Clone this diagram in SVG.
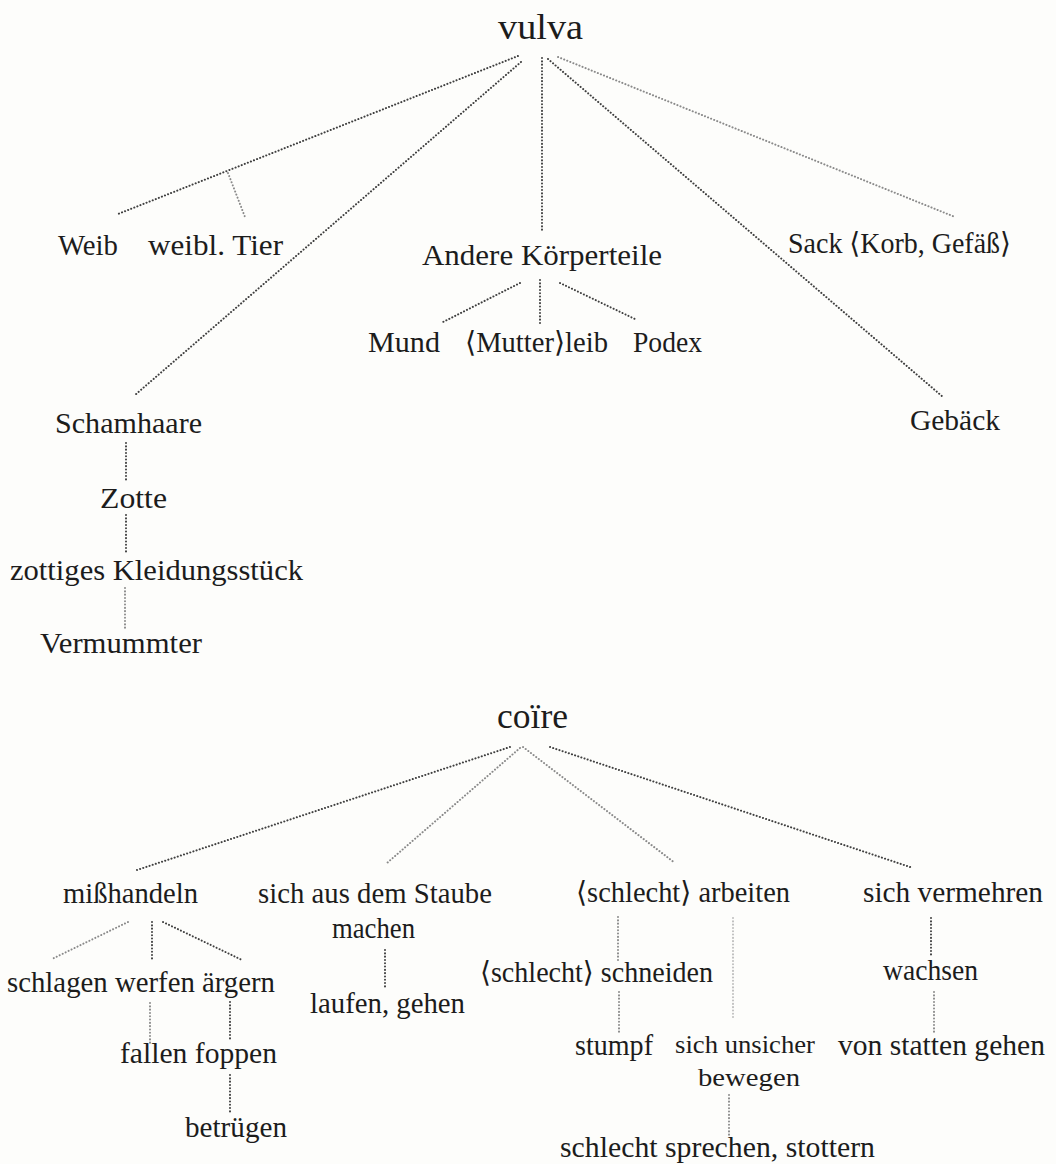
<svg xmlns="http://www.w3.org/2000/svg" width="1056" height="1164" viewBox="0 0 1056 1164">
<style>
text{font-family:"Liberation Serif","DejaVu Serif",serif;font-size:29px;fill:#1c1c1c}
.root{font-size:36px}
.sm{font-size:26px}
#connectors line{stroke:#3f3f3f;stroke-width:2;stroke-dasharray:0.1 3.2;stroke-linecap:round;fill:none}
#connectors line.l{stroke:#8a8a8a}
#connectors line.f{stroke:#bdbdbd}
</style>
<rect width="1056" height="1164" fill="#fdfdfb"/>
<g id="connectors">
<line x1="518" y1="56" x2="118" y2="214"/>
<line class="l" x1="228" y1="173" x2="245" y2="217"/>
<line x1="521" y1="62" x2="135" y2="395"/>
<line x1="542" y1="58" x2="542" y2="230"/>
<line x1="548" y1="59" x2="943" y2="397"/>
<line class="l" x1="558" y1="57" x2="955" y2="217"/>
<line x1="520" y1="283" x2="443" y2="322"/>
<line x1="540" y1="280" x2="540" y2="323"/>
<line x1="560" y1="283" x2="637" y2="320"/>
<line x1="126" y1="443" x2="126" y2="480"/>
<line x1="126" y1="515" x2="126" y2="553"/>
<line class="l" x1="125" y1="588" x2="125" y2="628"/>
<line x1="510" y1="747" x2="137" y2="870"/>
<line class="l" x1="520" y1="748" x2="387" y2="863"/>
<line class="l" x1="523" y1="747" x2="675" y2="863"/>
<line x1="550" y1="747" x2="913" y2="868"/>
<line class="l" x1="128" y1="922" x2="52" y2="959"/>
<line x1="152" y1="922" x2="152" y2="960"/>
<line x1="163" y1="922" x2="242" y2="960"/>
<line class="l" x1="150" y1="1003" x2="150" y2="1043"/>
<line x1="230" y1="1002" x2="230" y2="1040"/>
<line x1="230" y1="1075" x2="230" y2="1113"/>
<line x1="385" y1="950" x2="385" y2="988"/>
<line class="l" x1="618" y1="917" x2="618" y2="960"/>
<line class="f" x1="733" y1="918" x2="733" y2="1020"/>
<line class="l" x1="619" y1="992" x2="619" y2="1033"/>
<line class="l" x1="729" y1="1095" x2="729" y2="1137"/>
<line x1="931" y1="918" x2="931" y2="955"/>
<line class="l" x1="934" y1="992" x2="934" y2="1032"/>
</g>
<g id="n-vulva"><text class="root" x="498" y="39" textLength="85" lengthAdjust="spacingAndGlyphs">vulva</text></g>
<g id="n-weib"><text x="58" y="255" textLength="60" lengthAdjust="spacingAndGlyphs">Weib</text></g>
<g id="n-weibl-tier"><text x="148" y="255" textLength="135" lengthAdjust="spacingAndGlyphs">weibl.  Tier</text></g>
<g id="n-andere"><text x="422" y="265" textLength="240" lengthAdjust="spacingAndGlyphs">Andere Körperteile</text></g>
<g id="n-sack"><text x="788" y="253" textLength="223" lengthAdjust="spacingAndGlyphs">Sack ⟨Korb, Gefäß⟩</text></g>
<g id="n-mund"><text x="368" y="352" textLength="72" lengthAdjust="spacingAndGlyphs">Mund</text></g>
<g id="n-mutterleib"><text x="465" y="352" textLength="143" lengthAdjust="spacingAndGlyphs">⟨Mutter⟩leib</text></g>
<g id="n-podex"><text x="633" y="352" textLength="69" lengthAdjust="spacingAndGlyphs">Podex</text></g>
<g id="n-schamhaare"><text x="55" y="433" textLength="147" lengthAdjust="spacingAndGlyphs">Schamhaare</text></g>
<g id="n-gebaeck"><text x="910" y="430" textLength="90" lengthAdjust="spacingAndGlyphs">Gebäck</text></g>
<g id="n-zotte"><text x="100" y="508" textLength="67" lengthAdjust="spacingAndGlyphs">Zotte</text></g>
<g id="n-kleid"><text x="10" y="580" textLength="293" lengthAdjust="spacingAndGlyphs">zottiges  Kleidungsstück</text></g>
<g id="n-vermummter"><text x="40" y="653" textLength="162" lengthAdjust="spacingAndGlyphs">Vermummter</text></g>
<g id="n-coire"><text class="root" x="497" y="728" textLength="71" lengthAdjust="spacingAndGlyphs">coïre</text></g>
<g id="n-misshandeln"><text x="63" y="903" textLength="135" lengthAdjust="spacingAndGlyphs">mißhandeln</text></g>
<g id="n-staube"><text x="258" y="903" textLength="234" lengthAdjust="spacingAndGlyphs">sich aus dem Staube</text><text x="332" y="938" textLength="83" lengthAdjust="spacingAndGlyphs">machen</text></g>
<g id="n-arbeiten"><text x="576" y="902" textLength="214" lengthAdjust="spacingAndGlyphs">⟨schlecht⟩  arbeiten</text></g>
<g id="n-vermehren"><text x="863" y="902" textLength="180" lengthAdjust="spacingAndGlyphs">sich  vermehren</text></g>
<g id="n-schlagen"><text x="7" y="992" textLength="268" lengthAdjust="spacingAndGlyphs">schlagen werfen ärgern</text></g>
<g id="n-laufen"><text x="310" y="1013" textLength="155" lengthAdjust="spacingAndGlyphs">laufen, gehen</text></g>
<g id="n-schneiden"><text x="480" y="982" textLength="233" lengthAdjust="spacingAndGlyphs">⟨schlecht⟩  schneiden</text></g>
<g id="n-wachsen"><text x="883" y="980" textLength="95" lengthAdjust="spacingAndGlyphs">wachsen</text></g>
<g id="n-fallen"><text x="120" y="1063" textLength="157" lengthAdjust="spacingAndGlyphs">fallen  foppen</text></g>
<g id="n-betruegen"><text x="185" y="1137" textLength="102" lengthAdjust="spacingAndGlyphs">betrügen</text></g>
<g id="n-stumpf"><text x="575" y="1055" textLength="78" lengthAdjust="spacingAndGlyphs">stumpf</text></g>
<g id="n-unsicher"><text class="sm" x="675" y="1053" textLength="140" lengthAdjust="spacingAndGlyphs">sich unsicher</text><text class="sm" x="698" y="1086" textLength="102" lengthAdjust="spacingAndGlyphs">bewegen</text></g>
<g id="n-statten"><text x="838" y="1055" textLength="207" lengthAdjust="spacingAndGlyphs">von statten gehen</text></g>
<g id="n-sprechen"><text x="560" y="1157" textLength="315" lengthAdjust="spacingAndGlyphs">schlecht  sprechen,  stottern</text></g>
</svg>
